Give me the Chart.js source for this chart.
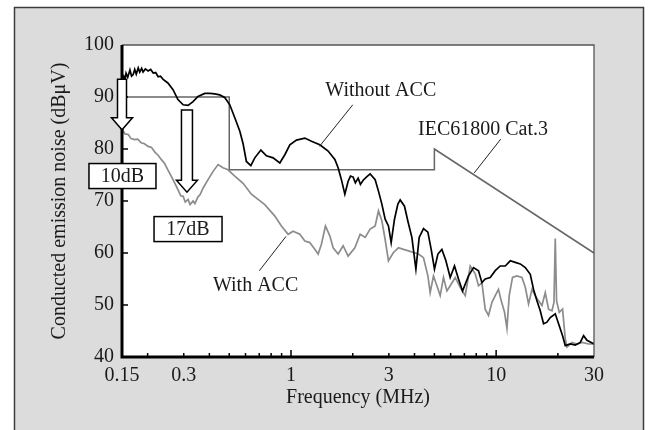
<!DOCTYPE html>
<html>
<head>
<meta charset="utf-8">
<script src="https://cdn.jsdelivr.net/npm/chart.js@4.4.1/dist/chart.umd.min.js"></script>
<style>
  html, body { margin: 0; padding: 0; background: #fff; }
</style>
</head>
<body>
<canvas id="chart" width="654" height="430"></canvas>
<script>
// Frequency in MHz, level in dBuV
const withoutFreq = [
  0.15, 0.153, 0.155, 0.157, 0.160, 0.164, 0.167, 0.170, 0.173, 0.176,
  0.180, 0.183, 0.187, 0.190, 0.195, 0.201, 0.207, 0.213, 0.219, 0.225,
  0.231, 0.238, 0.251, 0.266, 0.281, 0.298, 0.315, 0.333, 0.352, 0.380,
  0.402, 0.425, 0.449, 0.475, 0.503, 0.532, 0.563, 0.584, 0.606, 0.637,
  0.666, 0.713, 0.759, 0.818, 0.882, 0.933, 0.987, 1.063, 1.168, 1.258,
  1.382, 1.517, 1.636, 1.697, 1.761, 1.830, 1.899, 1.950, 2.009, 2.060,
  2.125, 2.180, 2.248, 2.330, 2.431, 2.572, 2.669, 2.773, 2.877, 2.986,
  3.078, 3.195, 3.319, 3.406, 3.575, 3.714, 3.884, 4.063, 4.216, 4.425,
  4.648, 4.824, 5.006, 5.201, 5.440, 5.690, 5.972, 6.267, 6.555, 6.856,
  7.335, 7.759, 8.205, 8.525, 8.846, 9.358, 9.899, 10.47, 11.08, 11.72,
  12.39, 13.11, 13.87, 14.67, 15.22, 15.81, 16.41, 17.03, 17.69, 18.36,
  19.42, 20.16, 21.08, 21.73, 22.98, 24.32, 25.72, 26.69, 27.73, 30
];
const withoutLevel = [
  93.3, 94.0, 93.2, 94.6, 93.8, 95.2, 94.0, 94.3, 95.3, 94.4,
  95.6, 94.8, 95.5, 94.8, 95.4, 95.0, 95.3, 94.6, 94.7, 93.9,
  94.0, 93.4, 92.7, 91.4, 89.5, 88.5, 88.4, 89.1, 90.1, 90.7,
  90.7, 90.6, 90.4, 89.9, 88.5, 86.0, 83.4, 81.0, 77.6, 76.8,
  78.3, 79.8, 78.7, 78.3, 77.3, 78.9, 80.8, 81.7, 82.1, 81.5,
  80.8, 79.6, 78.0, 76.4, 74.1, 71.3, 73.8, 74.8, 74.6, 73.5,
  74.4, 73.2, 74.0, 74.6, 75.2, 74.1, 71.9, 69.4, 66.5, 65.2,
  62.0, 66.5, 69.4, 70.2, 69.0, 66.1, 63.0, 56.9, 63.0, 64.7,
  64.0, 60.7, 56.9, 59.8, 60.7, 58.5, 55.3, 57.5, 55.0, 52.7,
  55.6, 57.2, 56.6, 54.3, 55.0, 55.3, 56.6, 57.5, 57.5, 58.5,
  58.2, 57.9, 57.2, 55.9, 53.0, 50.8, 48.9, 46.4, 46.7, 47.6,
  48.3, 46.4, 44.1, 42.2, 42.5, 42.3, 42.8, 44.1, 43.2, 42.5
];
const withFreq = [
  0.15, 0.155, 0.161, 0.166, 0.173, 0.179, 0.186, 0.193, 0.201, 0.209,
  0.217, 0.225, 0.233, 0.242, 0.251, 0.266, 0.281, 0.290, 0.298, 0.305,
  0.315, 0.322, 0.333, 0.340, 0.352, 0.360, 0.373, 0.394, 0.417, 0.441,
  0.466, 0.493, 0.532, 0.584, 0.641, 0.745, 0.834, 0.898, 0.968, 1.024,
  1.104, 1.168, 1.235, 1.306, 1.356, 1.407, 1.472, 1.546, 1.605, 1.697,
  1.795, 1.899, 2.048, 2.173, 2.299, 2.431, 2.572, 2.669, 2.773, 2.877,
  2.986, 3.159, 3.341, 3.535, 3.739, 3.954, 4.183, 4.425, 4.648, 4.769,
  4.950, 5.143, 5.337, 5.538, 5.754, 5.972, 6.317, 6.682, 7.068, 7.476,
  7.908, 8.205, 8.525, 8.846, 9.18, 9.54, 9.899, 10.27, 10.59, 10.99,
  11.29, 11.58, 12.02, 12.63, 13.36, 13.87, 14.39, 14.95, 15.51, 16.10,
  16.73, 17.36, 18.01, 18.72, 19.14, 19.42, 19.71, 20.31, 21.08, 21.73,
  22.15, 23.43, 24.78, 26.22, 28.24, 30
];
const withLevel = [
  83.9, 82.9, 82.8, 82.0, 81.8, 81.9, 81.2, 81.0, 80.5, 80.3,
  79.4, 78.8, 78.0, 77.2, 76.0, 74.1, 72.2, 71.0, 70.9, 69.8,
  70.3, 69.3, 70.0, 69.5, 70.8, 71.2, 72.5, 74.1, 75.7, 77.0,
  76.4, 76.0, 74.8, 73.4, 71.3, 69.3, 67.1, 65.2, 63.6, 64.2,
  63.6, 62.3, 62.0, 60.7, 59.8, 61.7, 65.2, 63.3, 61.0, 59.8,
  61.4, 59.4, 61.0, 63.6, 63.0, 64.6, 65.2, 68.1, 66.2, 62.6,
  58.5, 60.1, 61.0, 60.7, 60.4, 60.1, 59.8, 59.1, 55.6, 52.4,
  55.6, 53.7, 51.8, 55.3, 52.7, 53.7, 55.3, 53.4, 51.8, 57.5,
  56.0, 53.7, 54.3, 49.2, 48.0, 50.5, 51.8, 53.0, 50.8, 48.6,
  45.5, 51.8, 55.3, 55.6, 55.3, 53.4, 50.2, 53.0, 51.8, 50.8,
  49.9, 52.4, 49.2, 48.9, 50.5, 62.8, 50.8, 48.6, 49.2, 43.5,
  41.9, 42.8, 42.5, 42.8, 42.5, 42.5
];
// IEC61800 Cat.3 limit
const limitFreq = [0.15, 0.5, 0.5, 5, 5, 30];
const limitLevel = [90, 90, 76, 76, 80, 60];

const xTickValues = [0.15, 0.3, 1, 3, 10, 30];
const xTickLabels = ["0.15", "0.3", "1", "3", "10", "30"];
const xMinorTicks = [0.2, 0.3, 0.4, 0.5, 0.6, 0.7, 0.8, 0.9, 2, 3, 4, 5, 6, 7, 8, 9, 20];
const xMajorTicks = [1, 10];
const yTickValues = [50, 60, 70, 80, 90];

// annotation positions in data units (MHz, dBuV)
const curveLabels = [
  { text: "Without ACC", at: [2.74, 91.2], from: [2.0, 88.5], to: [1.376, 80.5] },
  { text: "IEC61800 Cat.3", at: [8.63, 83.7], from: [10.53, 81.9], to: [7.82, 75.4] },
  { text: "With ACC", at: [0.672, 53.7], from: [0.701, 56.6], to: [0.946, 63.2] }
];
const dropArrows = [
  { f: 0.15, from: 93.4, to: 83.7, shaft: 9 },
  { f: 0.311, from: 87.5, to: 71.7, shaft: 11 }
];
const dropBoxes = [
  { text: "10dB", at: [0.1508, 74.8], w: 67, h: 25 },
  { text: "17dB", at: [0.3148, 64.6], w: 68, h: 25 }
];

const FONT = '"Liberation Serif", "Times New Roman", serif';
const toPoints = (xs, ys) => xs.map((x, i) => ({ x: x, y: ys[i] }));

const decorations = {
  id: "decorations",
  beforeDraw(chart) {
    const ctx = chart.ctx;
    const a = chart.chartArea;
    ctx.save();
    ctx.fillStyle = "#fff";
    ctx.fillRect(0, 0, chart.width, chart.height);
    ctx.fillStyle = "#dcdcdc";
    ctx.fillRect(14, 7, 630, 430);
    ctx.strokeStyle = "#3c3c3c";
    ctx.lineWidth = 1.5;
    ctx.beginPath();
    ctx.moveTo(14.5, 432);
    ctx.lineTo(14.5, 7.5);
    ctx.lineTo(643.5, 7.5);
    ctx.lineTo(643.5, 432);
    ctx.stroke();
    ctx.fillStyle = "#fff";
    ctx.fillRect(a.left, a.top, a.right - a.left, a.bottom - a.top);
    ctx.restore();
  },
  afterDatasetsDraw(chart) {
    const ctx = chart.ctx;
    const a = chart.chartArea;
    const xs = chart.scales.x;
    const ys = chart.scales.y;
    const px = (f) => xs.getPixelForValue(f);
    const py = (v) => ys.getPixelForValue(v);
    ctx.save();

    // frame of plot
    ctx.strokeStyle = "#555";
    ctx.lineWidth = 1.3;
    ctx.beginPath();
    ctx.moveTo(a.left, a.top);
    ctx.lineTo(a.right, a.top);
    ctx.lineTo(a.right, a.bottom);
    ctx.stroke();

    // ticks
    ctx.strokeStyle = "#000";
    ctx.lineWidth = 1.5;
    ctx.beginPath();
    yTickValues.forEach((v) => {
      ctx.moveTo(a.left, py(v));
      ctx.lineTo(a.left + 6, py(v));
    });
    xMinorTicks.forEach((f) => {
      ctx.moveTo(px(f), a.bottom);
      ctx.lineTo(px(f), a.bottom - 4);
    });
    xMajorTicks.forEach((f) => {
      ctx.moveTo(px(f), a.bottom);
      ctx.lineTo(px(f), a.bottom - 7);
    });
    ctx.stroke();

    // heavy left and bottom axes
    ctx.lineWidth = 3;
    ctx.beginPath();
    ctx.moveTo(a.left, a.top);
    ctx.lineTo(a.left, a.bottom);
    ctx.lineTo(a.right, a.bottom);
    ctx.stroke();

    // leader lines and curve names
    ctx.lineWidth = 1;
    ctx.strokeStyle = "#222";
    ctx.fillStyle = "#1a1a1a";
    ctx.font = "20px " + FONT;
    ctx.textAlign = "center";
    ctx.textBaseline = "middle";
    curveLabels.forEach((l) => {
      ctx.beginPath();
      ctx.moveTo(px(l.from[0]), py(l.from[1]));
      ctx.lineTo(px(l.to[0]), py(l.to[1]));
      ctx.stroke();
      ctx.fillText(l.text, px(l.at[0]), py(l.at[1]));
    });

    // hollow arrows
    ctx.lineWidth = 1.5;
    ctx.strokeStyle = "#000";
    dropArrows.forEach((ar) => {
      const cx = px(ar.f);
      const top = py(ar.from);
      const tip = py(ar.to);
      const base = tip - 12;
      const s = ar.shaft / 2;
      ctx.beginPath();
      ctx.moveTo(cx - s, top);
      ctx.lineTo(cx - s, base);
      ctx.lineTo(cx - 10.5, base);
      ctx.lineTo(cx, tip);
      ctx.lineTo(cx + 10.5, base);
      ctx.lineTo(cx + s, base);
      ctx.lineTo(cx + s, top);
      ctx.closePath();
      ctx.fillStyle = "#fff";
      ctx.fill();
      ctx.stroke();
    });

    // boxed reductions
    dropBoxes.forEach((b) => {
      const cx = px(b.at[0]);
      const cy = py(b.at[1]);
      ctx.fillStyle = "#fff";
      ctx.fillRect(cx - b.w / 2, cy - b.h / 2, b.w, b.h);
      ctx.strokeRect(cx - b.w / 2, cy - b.h / 2, b.w, b.h);
      ctx.fillStyle = "#1a1a1a";
      ctx.fillText(b.text, cx, cy + 1);
    });
    ctx.restore();
  }
};

new Chart(document.getElementById("chart"), {
  type: "scatter",
  data: {
    datasets: [
      {
        label: "Without ACC",
        data: toPoints(withoutFreq, withoutLevel),
        showLine: true,
        borderColor: "#000",
        borderWidth: 1.7,
        pointRadius: 0,
        tension: 0
      },
      {
        label: "With ACC",
        data: toPoints(withFreq, withLevel),
        showLine: true,
        borderColor: "#8c8c8c",
        borderWidth: 1.7,
        pointRadius: 0,
        tension: 0
      },
      {
        label: "IEC61800 Cat.3",
        data: toPoints(limitFreq, limitLevel),
        showLine: true,
        borderColor: "#666",
        borderWidth: 1.5,
        pointRadius: 0,
        tension: 0
      }
    ]
  },
  options: {
    responsive: false,
    animation: false,
    devicePixelRatio: 1,
    layout: { padding: { left: 0, top: 45, right: 60, bottom: 0 } },
    plugins: {
      legend: { display: false },
      tooltip: { enabled: false }
    },
    scales: {
      x: {
        type: "logarithmic",
        min: 0.15,
        max: 30,
        afterBuildTicks: (scale) => {
          scale.ticks = xTickValues.map((v) => ({ value: v }));
        },
        afterFit: (scale) => { scale.height = 73; },
        grid: { display: false, drawTicks: false },
        border: { display: false },
        ticks: {
          autoSkip: false,
          maxRotation: 0,
          padding: 7,
          color: "#1a1a1a",
          font: { family: FONT, size: 20 },
          callback: (value, index) => xTickLabels[index]
        },
        title: {
          display: true,
          text: "Frequency (MHz)",
          color: "#1a1a1a",
          font: { family: FONT, size: 20 },
          padding: { top: 0, bottom: 20 }
        }
      },
      y: {
        min: 40,
        max: 100,
        afterFit: (scale) => { scale.width = 122; },
        grid: { display: false, drawTicks: false },
        border: { display: false },
        ticks: {
          stepSize: 10,
          padding: 8,
          color: "#1a1a1a",
          font: { family: FONT, size: 20 }
        },
        title: {
          display: true,
          text: "Conducted emission noise (dBμV)",
          color: "#1a1a1a",
          font: { family: FONT, size: 20 },
          padding: { top: 48, bottom: 0 }
        }
      }
    }
  },
  plugins: [decorations]
});
</script>
</body>
</html>
